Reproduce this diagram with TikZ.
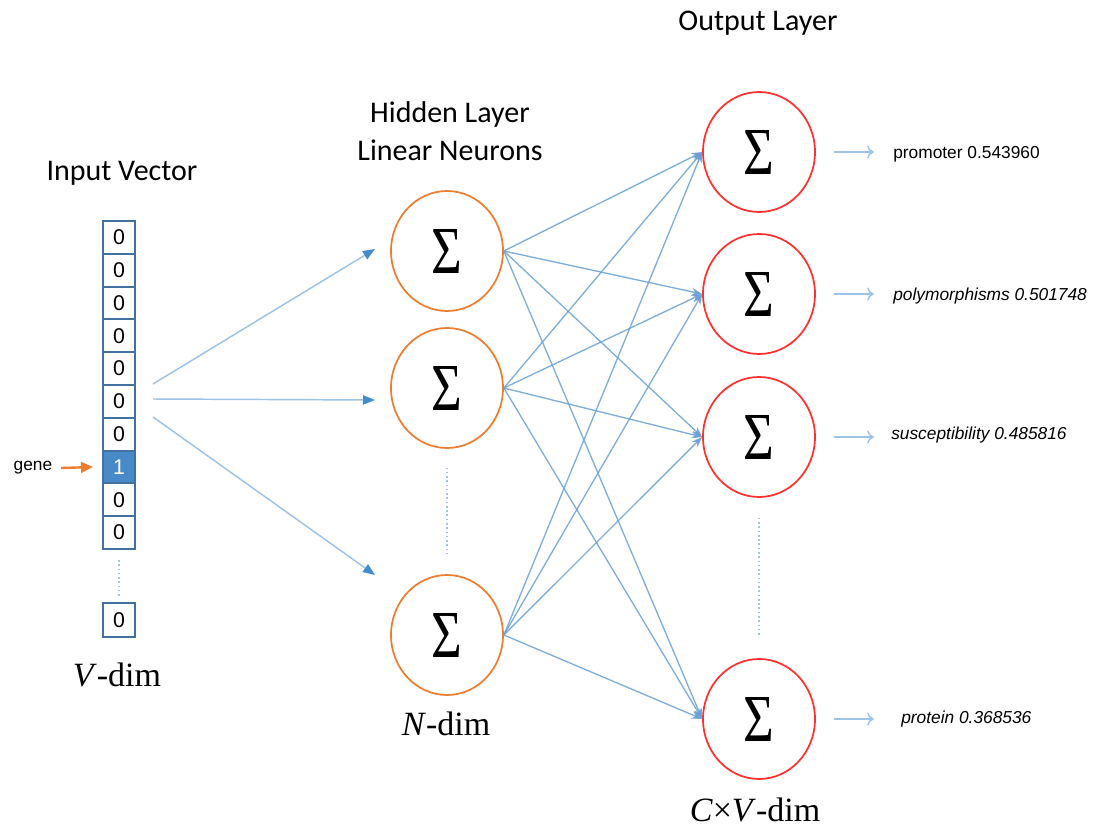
\documentclass[tikz,border=0pt]{standalone}
\usepackage{fontspec}
\usepackage{graphicx}
\setmainfont{Liberation Serif}
\newfontfamily\calibfont{Carlito}
\newfontfamily\arialfont{Liberation Sans}
\usetikzlibrary{arrows.meta,shapes.geometric}
\definecolor{lineblue}{RGB}{157,195,230}
\definecolor{tipblue}{RGB}{68,140,204}
\definecolor{cellblue}{RGB}{65,113,156}
\definecolor{fillblue}{RGB}{72,137,199}
\definecolor{orangec}{RGB}{237,125,49}
\definecolor{redc}{RGB}{255,48,48}
\definecolor{webblue}{RGB}{105,160,212}
\newcommand\mysigma{\resizebox{23pt}{33pt}{Σ}}
\begin{document}
\begin{tikzpicture}[x=0.75pt,y=-0.75pt,
  cellbox/.style={draw=cellblue,line width=1.5pt,minimum width=24pt,minimum height=24.6pt,inner sep=0,font=\arialfont\fontsize{16}{16}\selectfont},
  hid/.style={ellipse,draw=orangec,line width=1.3pt,minimum width=84pt,minimum height=90pt,inner sep=0},
  outn/.style={ellipse,draw=redc,line width=1.3pt,minimum width=84pt,minimum height=90pt,inner sep=0},
  title/.style={font=\calibfont\fontsize{22.5}{28.5}\selectfont,align=center},
  dimlab/.style={font=\fontsize{25.5}{30}\selectfont},
  lab/.style={font=\arialfont\fontsize{13}{15}\selectfont,anchor=west,inner sep=0},
  inarrow/.style={draw=lineblue,line width=1.1pt,-{Triangle[length=9pt,width=7pt,fill=tipblue,color=tipblue]}},
  genearrow/.style={draw=orangec,line width=1.8pt,-{Triangle[length=9pt,width=8pt]}},
  web/.style={draw=webblue,draw opacity=0.85,line width=1pt,-{Stealth[length=8pt,width=6pt]}},
  outarrow/.style={draw=lineblue,line width=1.1pt,-{To[length=5pt,width=10pt]}},
  dots/.style={draw=lineblue,line width=1.2pt,dotted},
]
\useasboundingbox (0,0) rectangle (1108,828);

% titles
\node[title] (tin) at (122,173) {Input Vector};
\node[title] (thid) at (450,131) {Hidden Layer\\Linear Neurons};
\node[title] (tout) at (758,23) {Output Layer};

% input vector cells
\foreach \i in {1,...,10}{
  \pgfmathsetmacro{\yy}{221+32.8*(\i-0.5)}
  \ifnum\i=8
    \node[cellbox,fill=fillblue,text=white] (c\i) at (119,\yy) {1};
  \else
    \node[cellbox] (c\i) at (119,\yy) {0};
  \fi
}
\node[cellbox,minimum height=25.5pt] (c11) at (119,620) {0};
\draw[dots] ([yshift=-7.5pt]c10.south) -- ([yshift=4.5pt]c11.north);

% gene
\node[font=\arialfont\fontsize{13}{15}\selectfont,inner sep=0] (gene) at (33,468) {gene};
\draw[genearrow] ([xshift=6.5pt]gene.east) -- ([xshift=-6.75pt]c8.west);

% dim labels
\node[dimlab] (vdim) at (117,675) {\textit{V}-dim};
\node[dimlab] (ndim) at (446,724) {\textit{N}-dim};
\node[dimlab] (cvdim) at (755,810) {\textit{C}×\textit{V}-dim};

% hidden
\node[hid] (h1) at (447,251) {\mysigma};
\node[hid] (h2) at (447,388) {\mysigma};
\node[hid] (h3) at (447,635) {\mysigma};
\draw[dots,shorten <=14pt,shorten >=15pt] (h2.south) -- (h3.north);

% output
\node[outn] (o1) at (759,152) {\mysigma};
\node[outn] (o2) at (759,294) {\mysigma};
\node[outn] (o3) at (759,437) {\mysigma};
\node[outn] (o4) at (759,719) {\mysigma};
\draw[dots,shorten <=15pt,shorten >=16.5pt] (o3.south) -- (o4.north);

% input arrows
\coordinate (s1) at (153,384);
\coordinate (s2) at (153,399);
\coordinate (s3) at (153,417);
\coordinate (t1) at (375,249);
\coordinate (t2) at (375,400);
\coordinate (t3) at (375,575);
\draw[inarrow] (s1) -- (t1);
\draw[inarrow] (s2) -- (t2);
\draw[inarrow] (s3) -- (t3);

% hidden to output
\foreach \h in {1,2,3}{
  \foreach \o in {1,2,3,4}{
    \draw[web] (h\h.east) -- (o\o.west);
  }
}

% output labels
\node[lab] (l1) at (893,154) {promoter 0.543960};
\node[lab] (l2) at (893,296) {\itshape polymorphisms 0.501748};
\node[lab] (l3) at (891,435) {\itshape susceptibility 0.485816};
\node[lab] (l4) at (901,719) {\itshape protein 0.368536};
\draw[outarrow] ([xshift=13.5pt]o1.east) -- ([xshift=43.5pt]o1.east);
\draw[outarrow] ([xshift=13.5pt]o2.east) -- ([xshift=43.5pt]o2.east);
\draw[outarrow] ([xshift=13.5pt]o3.east) -- ([xshift=43.5pt]o3.east);
\draw[outarrow] ([xshift=13.5pt]o4.east) -- ([xshift=43.5pt]o4.east);
\end{tikzpicture}
\end{document}
